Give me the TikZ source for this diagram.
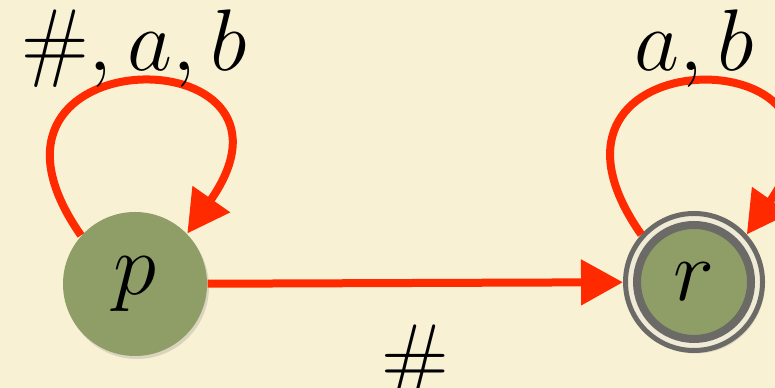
\documentclass[tikz,border=0pt]{standalone}
\usetikzlibrary{arrows.meta, positioning, shadows}

\definecolor{fondo}{RGB}{248,241,212}
\definecolor{verde}{RGB}{142,158,102}
\definecolor{rojo}{RGB}{255,42,0}
\definecolor{gris}{RGB}{108,106,102}
\definecolor{anillo}{RGB}{240,235,214}

\begin{document}
\begin{tikzpicture}[>={Triangle[length=0.42cm,width=0.44cm]},
  estado/.style={circle, fill=verde, inner sep=0pt, minimum size=1.44cm,
                 font=\fontsize{23}{26}\selectfont,
                 drop shadow={shadow xshift=0.02cm, shadow yshift=-0.03cm, opacity=0.25}},
  flecha/.style={->, draw=rojo, line width=0.08cm},
  etiq/.style={font=\fontsize{23}{26}\selectfont, inner sep=0pt}]

  % fondo
  \path[use as bounding box, fill=fondo] (0,0) rectangle (7.75,3.88);

  % estados
  \node[estado] (p) at (1.35,1.04) {$p$};
  \node[estado, draw=gris, fill=anillo, line width=0.05cm, minimum size=1.37cm] (r) at (6.94,1.06) {};
  \node[circle, draw=gris, fill=verde, line width=0.08cm, inner sep=0pt, minimum size=1.14cm,
        font=\fontsize{23}{26}\selectfont] (rin) at (r) {$r$};

  % bucles
  \draw[flecha] (p.138) .. controls +(125:2.45) and +(55:2.45) .. (p.44)
        node[etiq, pos=0.5, anchor=base, yshift=0.13cm] {$\#, a, b$};
  \draw[flecha] (r.138) .. controls +(125:2.45) and +(55:2.45) .. (r.42)
        node[etiq, pos=0.5, anchor=base, yshift=0.13cm] {$a, b$};

  % transicion
  \draw[flecha] (p) -- (r) node[etiq, midway, below=0.38cm] {$\#$};
\end{tikzpicture}
\end{document}
